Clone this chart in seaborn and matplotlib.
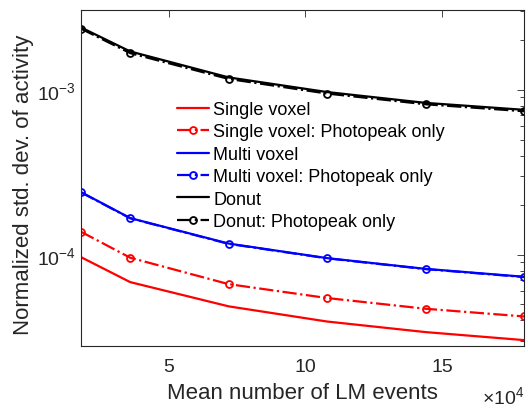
import numpy as np
import pandas as pd
import matplotlib
matplotlib.use("Agg")
import matplotlib.pyplot as plt
import seaborn as sns
from matplotlib.ticker import LogLocator, FixedLocator, NullFormatter, FuncFormatter

# ---- data (x in units of 1e4 LM events) ----
n_events = [1.8, 3.6, 7.2, 10.8, 14.4, 18.0]
single_voxel = [9.68e-5, 6.83e-5, 4.87e-5, 3.94e-5, 3.40e-5, 3.04e-5]
single_voxel_pp = [1.38e-4, 9.6e-5, 6.64e-5, 5.47e-5, 4.71e-5, 4.23e-5]
multi_voxel = [2.40e-4, 1.67e-4, 1.17e-4, 9.55e-5, 8.22e-5, 7.36e-5]
multi_voxel_pp = [2.39e-4, 1.665e-4, 1.165e-4, 9.52e-5, 8.19e-5, 7.33e-5]
donut = [2.39e-3, 1.71e-3, 1.19e-3, 9.7e-4, 8.34e-4, 7.57e-4]
donut_pp = [2.35e-3, 1.67e-3, 1.165e-3, 9.5e-4, 8.18e-4, 7.42e-4]

series_labels = ["Single voxel", "Single voxel: Photopeak only",
                 "Multi voxel", "Multi voxel: Photopeak only",
                 "Donut", "Donut: Photopeak only"]
series_values = [single_voxel, single_voxel_pp, multi_voxel, multi_voxel_pp,
                 donut, donut_pp]

sns.set_style("white")
plt.rcParams["font.family"] = ["Liberation Sans", "DejaVu Sans"]
plt.rcParams["mathtext.fontset"] = "custom"
plt.rcParams["mathtext.rm"] = "Liberation Sans"
plt.rcParams["mathtext.it"] = "Liberation Sans"
plt.rcParams["mathtext.default"] = "regular"

grey = "#262626"
fig = plt.figure(figsize=(5.28, 4.10), dpi=100)
ax = fig.add_axes([81/528, (410-347)/410, (524-81)/528, (347-11)/410])

styles = [
    dict(color="red", linestyle="-", marker=None),
    dict(color="red", linestyle="-.", marker="o"),
    dict(color="blue", linestyle="-", marker=None),
    dict(color="blue", linestyle="-.", marker="o"),
    dict(color="black", linestyle="-", marker=None),
    dict(color="black", linestyle="-.", marker="o"),
]

for lab, vals, st in zip(series_labels, series_values, styles):
    df = pd.DataFrame({"x": n_events, "y": vals})
    kw = dict(color=st["color"], linestyle=st["linestyle"], linewidth=1.6, label=lab)
    if st["marker"]:
        kw.update(marker="o", markersize=5, markerfacecolor="none",
                  markeredgecolor=st["color"], markeredgewidth=1.3)
    sns.lineplot(data=df, x="x", y="y", ax=ax, **kw)

ax.set_yscale("log")
ax.set_xlim(1.8, 18)
ax.set_ylim(2.8e-5, 3.05e-3)

ax.xaxis.set_major_locator(FixedLocator([5, 10, 15]))
ax.yaxis.set_major_locator(FixedLocator([1e-4, 1e-3]))
ax.yaxis.set_major_formatter(FuncFormatter(lambda v, p: r"$10^{%d}$" % int(round(np.log10(v)))))
ax.yaxis.set_minor_locator(LogLocator(base=10, subs=np.arange(2, 10)))
ax.yaxis.set_minor_formatter(NullFormatter())

ax.tick_params(which="both", direction="in", top=True, right=True, colors=grey,
               labelsize=14, width=0.6)
ax.tick_params(which="major", length=5)
ax.tick_params(which="minor", length=3)
ax.tick_params(axis="x", pad=9)
for s in ax.spines.values():
    s.set_color(grey)
    s.set_linewidth(0.8)

ax.set_xlabel("Mean number of LM events", fontsize=16, color=grey)
ax.xaxis.set_label_coords(0.5, -(399 - 347) / 336)
ax.xaxis.label.set_va("baseline")
ax.set_ylabel("Normalized std. dev. of activity", fontsize=16, color=grey)
ax.yaxis.set_label_coords((34 - 81) / 443, (347 - 185) / 336)

fig.text(482/528, 1 - 404/410, r"$\times10^{4}$", fontsize=14, color=grey,
         ha="left", va="baseline")

leg = ax.legend(loc="upper left", bbox_to_anchor=(177/528, 1 - 102/410),
                bbox_transform=fig.transFigure, frameon=False, fontsize=13,
                handlelength=1.75, handletextpad=0.25, labelspacing=0.3,
                borderpad=0, borderaxespad=0)
for t in leg.get_texts():
    t.set_color("black")

fig.savefig("out.png", dpi=100)
